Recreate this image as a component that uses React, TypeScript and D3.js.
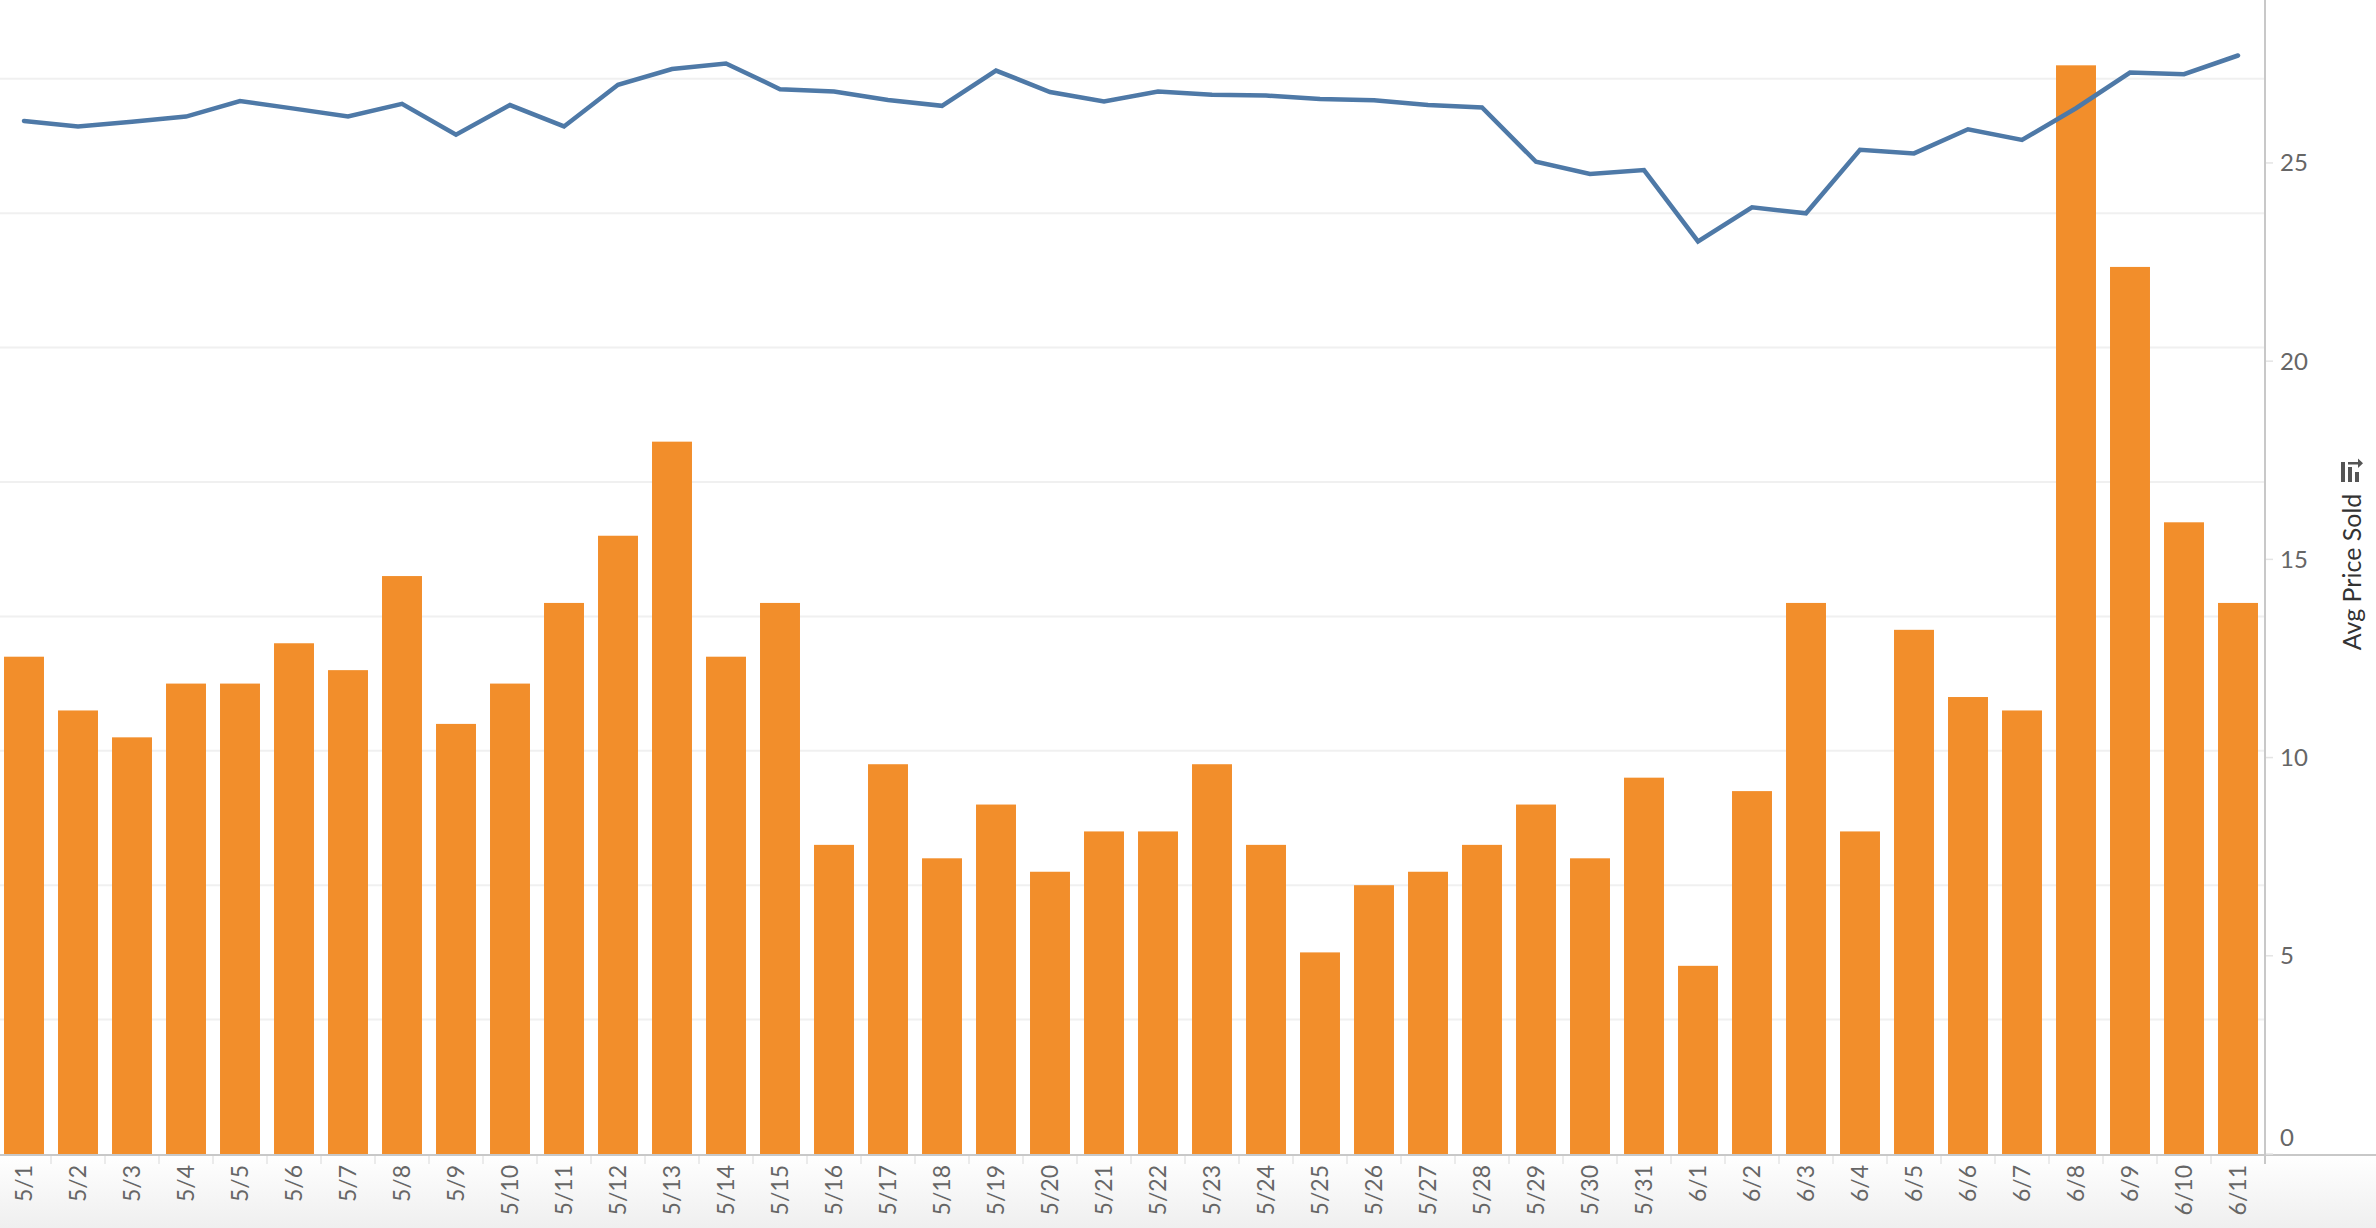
import React, { useRef, useEffect } from 'react'
import * as d3 from 'd3'

const days = [
    '5/1', '5/2', '5/3', '5/4', '5/5', '5/6', '5/7', '5/8', '5/9', '5/10',
    '5/11', '5/12', '5/13', '5/14', '5/15', '5/16', '5/17', '5/18', '5/19', '5/20',
    '5/21', '5/22', '5/23', '5/24', '5/25', '5/26', '5/27', '5/28', '5/29', '5/30',
    '5/31', '6/1', '6/2', '6/3', '6/4', '6/5', '6/6', '6/7', '6/8', '6/9',
    '6/10', '6/11',
]

// bar measure (its axis is hidden in the original)
const soldCount = [
    37, 33, 31, 35, 35, 38, 36, 43, 32, 35,
    41, 46, 53, 37, 41, 23, 29, 22, 26, 21,
    24, 24, 29, 23, 15, 20, 21, 23, 26, 22,
    28, 14, 27, 41, 24, 39, 34, 33, 81, 66,
    47, 41,
]

// line measure, right axis
const avgPriceSold = [
    26.06, 25.92, 26.04, 26.17, 26.56, 26.37, 26.17, 26.49, 25.71, 26.46,
    25.92, 26.97, 27.37, 27.51, 26.86, 26.8, 26.59, 26.44, 27.33, 26.79,
    26.55, 26.8, 26.72, 26.7, 26.61, 26.58, 26.46, 26.4, 25.03, 24.72,
    24.82, 23.02, 23.88, 23.73, 25.33, 25.24, 25.85, 25.58, 26.38, 27.28,
    27.24, 27.71,
]

const priceTicks = [0, 5, 10, 15, 20, 25]

const W = 2376
const H = 1228

const App: React.FC = () => {
    const svgRef = useRef<SVGSVGElement>(null)

    useEffect(() => {
        if (!svgRef.current) return
        const svg = d3.select(svgRef.current)
        svg.selectAll('*').remove()

        const plotLeft = -3
        const plotRight = 2265
        const baseY = 1154
        const font = 'Lato, "Open Sans", sans-serif'

        const x = d3
            .scaleBand<string>()
            .domain(days)
            .range([plotLeft, plotRight])
            .paddingInner(0.26)
            .paddingOuter(0.13)

        const yCount = d3.scaleLinear().domain([0, 85.86]).range([baseY, 0])
        const yPrice = d3.scaleLinear().domain([0, 29.11]).range([baseY, 0])

        // header background under the axis
        const defs = svg.append('defs')
        const grad = defs
            .append('linearGradient')
            .attr('id', 'hdr')
            .attr('x1', 0)
            .attr('y1', 0)
            .attr('x2', 0)
            .attr('y2', 1)
        grad.append('stop').attr('offset', '0%').attr('stop-color', '#ffffff')
        grad.append('stop').attr('offset', '100%').attr('stop-color', '#efefef')

        svg.append('rect')
            .attr('x', 0)
            .attr('y', baseY)
            .attr('width', W)
            .attr('height', H - baseY)
            .attr('fill', 'url(#hdr)')

        // gridlines (from the hidden count axis)
        svg.append('g')
            .selectAll('line')
            .data(yCount.ticks(8).filter((t) => t > 0))
            .enter()
            .append('line')
            .attr('x1', 0)
            .attr('x2', plotRight)
            .attr('y1', (d) => yCount(d))
            .attr('y2', (d) => yCount(d))
            .attr('stroke', '#f0f0f0')
            .attr('stroke-width', 2)

        // bars
        svg.append('g')
            .selectAll('rect')
            .data(days)
            .enter()
            .append('rect')
            .attr('x', (d) => x(d)!)
            .attr('width', x.bandwidth())
            .attr('y', (_, i) => yCount(soldCount[i]))
            .attr('height', (_, i) => baseY - yCount(soldCount[i]))
            .attr('fill', '#f28e2b')

        // line
        const line = d3
            .line<number>()
            .x((_, i) => x(days[i])! + x.bandwidth() / 2)
            .y((d) => yPrice(d))

        svg.append('path')
            .datum(avgPriceSold)
            .attr('d', line)
            .attr('fill', 'none')
            .attr('stroke', '#4e79a7')
            .attr('stroke-width', 4.5)
            .attr('stroke-linejoin', 'miter')
            .attr('stroke-linecap', 'round')

        // axis lines
        svg.append('line')
            .attr('x1', plotRight)
            .attr('x2', plotRight)
            .attr('y1', 0)
            .attr('y2', baseY + 10)
            .attr('stroke', '#c8c8c8')
            .attr('stroke-width', 2)

        svg.append('line')
            .attr('x1', 0)
            .attr('x2', W)
            .attr('y1', baseY + 1)
            .attr('y2', baseY + 1)
            .attr('stroke', '#c8c8c8')
            .attr('stroke-width', 2)

        // x tick dividers between bands
        const step = x.step()
        svg.append('g')
            .selectAll('line')
            .data(days.slice(1))
            .enter()
            .append('line')
            .attr('x1', (d) => x(d)! - (step - x.bandwidth()) / 2)
            .attr('x2', (d) => x(d)! - (step - x.bandwidth()) / 2)
            .attr('y1', baseY + 2)
            .attr('y2', baseY + 10)
            .attr('stroke', '#e4e4e4')
            .attr('stroke-width', 1.5)

        // x labels
        svg.append('g')
            .selectAll('text')
            .data(days)
            .enter()
            .append('text')
            .attr(
                'transform',
                (d) => `translate(${x(d)! + x.bandwidth() / 2},${baseY + 11}) rotate(-90)`,
            )
            .attr('dy', '0.35em')
            .style('text-anchor', 'end')
            .style('font-family', font)
            .style('font-size', '23px')
            .style('fill', '#666')
            .text((d) => d)

        // right axis ticks + labels
        const ra = svg.append('g')
        ra.selectAll('line')
            .data(priceTicks)
            .enter()
            .append('line')
            .attr('x1', plotRight + 1)
            .attr('x2', plotRight + 8)
            .attr('y1', (d) => yPrice(d))
            .attr('y2', (d) => yPrice(d))
            .attr('stroke', '#e4e4e4')
            .attr('stroke-width', 1.5)

        ra.selectAll('text')
            .data(priceTicks)
            .enter()
            .append('text')
            .attr('x', 2280)
            .attr('y', (d) => yPrice(d) + (d === 0 ? -16 : 0))
            .attr('dy', '0.35em')
            .style('font-family', font)
            .style('font-size', '24px')
            .style('fill', '#666')
            .text((d) => d)

        // axis title
        svg.append('text')
            .attr('transform', 'translate(2361,572) rotate(-90)')
            .style('text-anchor', 'middle')
            .style('font-family', font)
            .style('font-size', '25px')
            .style('fill', '#333')
            .text('Avg Price Sold')

        // little sort icon above the title
        const icon = svg.append('g').attr('transform', 'translate(2341,462)').attr('fill', '#555')
        icon.append('rect').attr('x', 0).attr('y', 0).attr('width', 4).attr('height', 20)
        icon.append('rect').attr('x', 7).attr('y', 5).attr('width', 4).attr('height', 15)
        icon.append('rect').attr('x', 14).attr('y', 10).attr('width', 4).attr('height', 10)
        icon.append('rect').attr('x', 7).attr('y', 0).attr('width', 12).attr('height', 2.5)
        icon.append('path').attr('d', 'M17,-3.5 L22,1.25 L17,6 Z')
    }, [])

    return (
        <div style={{ position: 'absolute', left: 0, top: 0, width: W, height: H, background: '#fff' }}>
            <svg ref={svgRef} width={W} height={H} />
        </div>
    )
}

export default App
